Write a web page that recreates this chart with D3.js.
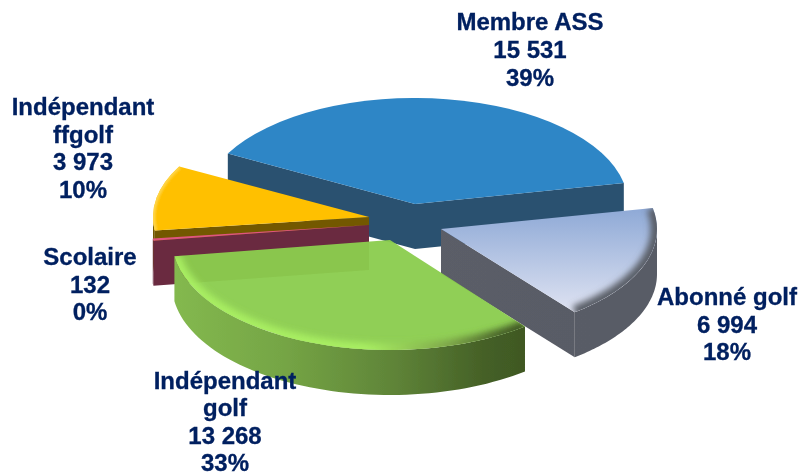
<!DOCTYPE html>
<html><head><meta charset="utf-8">
<script src="https://cdn.jsdelivr.net/npm/d3@7"></script>
<style>html,body{margin:0;padding:0;background:#fff}svg{display:block}</style>
</head><body><svg id="c" width="799" height="473"></svg>
<script>
// --- data ---
const categories = [["Membre ASS"], ["Abonné golf"], ["Indépendant","golf"], ["Scolaire"], ["Indépendant","ffgolf"]];
const values = [15531, 6994, 13268, 132, 3973];
const keys = ["blue","grey","green","pink","gold"];
const topColors = ["#2e86c6","url(#topGrey)","#8bcd4e","#e0557f","#ffc000"];

// --- layout ---
const W=799,H=473, cx=415, cy=204, depth=45;
const startDeg=-61.5;
const explode=[[0,0],[26,25],[-25,36],[-46,21],[-46,13]];
const radii=[[213,106],[216,106],[218,110],[218,106],[216,106]];
const labelPos=[[530,30],[727,305],[225,389],[90,265],[83,115]];
const lineSteps=[28,27.5,27.3,27.5,27.7];
const sideStops={
  blue:[[0,"#2c5170"],[1,"#2c5170"]],
  grey:[[0,"#4a5162"],[.45,"#5b5e67"],[1,"#595c66"]],
  green:[[0,"#84b94f"],[.3,"#75a545"],[.6,"#5f8438"],[.85,"#445f26"],[1,"#3e5522"]],
  pink:[[0,"#6a2a40"],[1,"#6a2a40"]],
  gold:[[0,"#735800"],[1,"#735800"]]
};
const bevels=[
  null,
  {w:13,b:3,stops:[[0,"#5a5e68"],[1,"#5a5e68"]]},
  {w:13,b:3,stops:[[0,"#a8ee62"],[.55,"#a8ee62"],[.78,"#7fa84a"],[.92,"#4d6a2c"],[1,"#3e5522"]]},
  null,
  {w:5,b:1,stops:[[0,"#ffd54a"],[1,"#ffd54a"]]}
];

const svg=d3.select("#c");
const defs=svg.append("defs");
defs.append("filter").attr("id","soft").append("feGaussianBlur").attr("stdDeviation",.45);
const g=svg.append("g").attr("filter","url(#soft)");
function grad(id,x0,x1,y0,y1,stops){
  const l=defs.append("linearGradient").attr("id",id).attr("gradientUnits","userSpaceOnUse")
    .attr("x1",x0).attr("x2",x1).attr("y1",y0).attr("y2",y1);
  stops.forEach(s=>l.append("stop").attr("offset",s[0]).attr("stop-color",s[1]));
}
const rad=d=>d*Math.PI/180;
const pie=d3.pie().sort(null).startAngle(rad(startDeg)).endAngle(rad(startDeg+360));
const arcs=pie(values);
const order=[0,4,3,1,2];
const total=d3.sum(values);
const tg=defs.append("linearGradient").attr("id","topGrey").attr("x1",0).attr("x2",0).attr("y1",0).attr("y2",1);
tg.append("stop").attr("offset",0).attr("stop-color","#8ea9d6");
tg.append("stop").attr("offset",1).attr("stop-color","#dfe3f2");

order.forEach(i=>{
  const A=arcs[i],[a,b]=radii[i],px=cx+explode[i][0],py=cy+explode[i][1],key=keys[i];
  const X=t=>px+a*Math.sin(t),Y=t=>py-b*Math.cos(t);
  grad("side"+i,px-a,px+a*.7,0,0,sideStops[key]);
  const sl=g.append("g").attr("class","slice-"+key);
  const wall=d3.line().x(p=>p[0]).y(p=>p[1]);
  [[A.startAngle,-1],[A.endAngle,1]].forEach(([t,s])=>{
    const n=t+s*Math.PI/2;
    if(Math.cos(n)<0){
      sl.append("path").attr("fill","url(#side"+i+")")
        .attr("d",wall([[px,py],[X(t),Y(t)],[X(t),Y(t)+depth],[px,py+depth]])+"Z");
    }
  });
  const t0=Math.max(A.startAngle,Math.PI/2),t1=Math.min(A.endAngle,1.5*Math.PI);
  const steps=d3.range(0,61).map(k=>k/60);
  if(t1>t0){
    const area=d3.area().x(k=>X(t0+(t1-t0)*k)).y0(k=>Y(t0+(t1-t0)*k)).y1(k=>Y(t0+(t1-t0)*k)+depth);
    sl.append("path").attr("fill","url(#side"+i+")").attr("d",area(steps));
  }
  const arc=d3.arc().innerRadius(0).outerRadius(a).startAngle(A.startAngle).endAngle(A.endAngle);
  const tf=`translate(${px},${py}) scale(1,${b/a})`;
  sl.append("path").attr("d",arc()).attr("transform",tf).attr("fill",topColors[i])
    .attr("fill-opacity",key==="green"?.96:1);
  if(bevels[i]){
    const bv=bevels[i];
    defs.append("clipPath").attr("id","clip"+i).append("path").attr("d",arc()).attr("transform",tf);
    defs.append("filter").attr("id","blur"+i).attr("filterUnits","userSpaceOnUse")
      .attr("x",0).attr("y",0).attr("width",W).attr("height",H)
      .append("feGaussianBlur").attr("stdDeviation",bv.b);
    grad("bev"+i,px-a,px+a*.62,0,0,bv.stops);
    const rim=d3.line().x(k=>X(A.startAngle+(A.endAngle-A.startAngle)*k)).y(k=>Y(A.startAngle+(A.endAngle-A.startAngle)*k));
    sl.append("g").attr("clip-path","url(#clip"+i+")").append("path").attr("d",rim(steps))
      .attr("fill","none").attr("stroke","url(#bev"+i+")").attr("stroke-width",bv.w)
      .attr("filter","url(#blur"+i+")");
  }
});

const fmt=d3.formatLocale({decimal:",",thousands:" ",grouping:[3],currency:["","€"]}).format(",d");
values.forEach((v,i)=>{
  const lines=[...categories[i],fmt(v),Math.round(v/total*100)+"%"];
  const t=svg.append("text").attr("text-anchor","middle")
    .attr("font-family","'Liberation Sans',Arial,sans-serif").attr("font-weight","bold")
    .attr("font-size",24).attr("fill","#002060").attr("stroke","#002060").attr("stroke-width",.3);
  lines.forEach((s,j)=>t.append("tspan").attr("x",labelPos[i][0]).attr("y",labelPos[i][1]+j*lineSteps[i]).text(s));
});
</script></body></html>
